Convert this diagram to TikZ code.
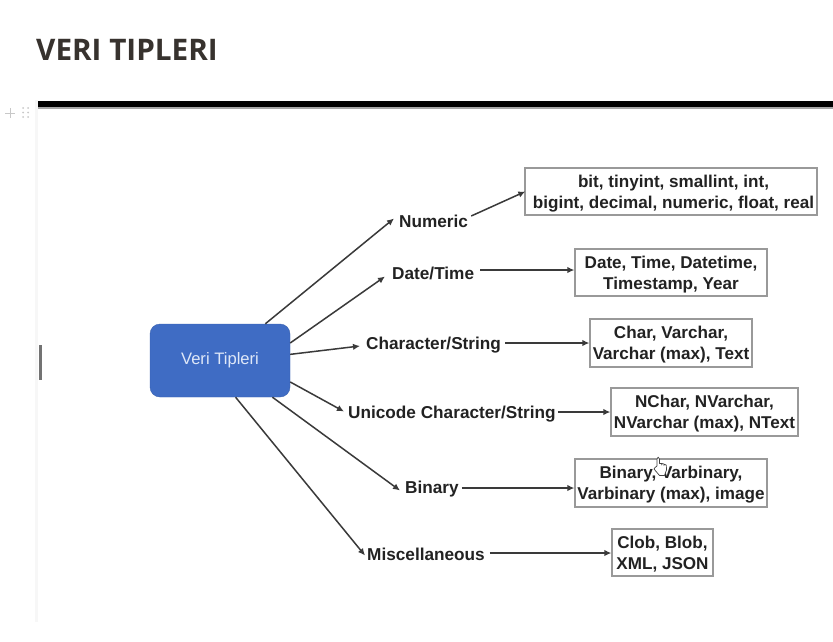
\documentclass[tikz,border=0pt]{standalone}
\usepackage{fontspec}
\setmainfont{Liberation Sans}
\newfontfamily\titlefont{Open Sans}
\usetikzlibrary{arrows.meta,calc}
\tikzset{
  databox/.style={draw=boxgray,line width=1.3pt,fill=white,align=center,font=\fontsize{17.1}{21}\selectfont\bfseries,text=inkdark,inner sep=0pt},
  boxtext/.style={align=center,font=\fontsize{17.1}{21}\selectfont\bfseries,text=inkdark,inner sep=0pt},
  cat/.style={font=\fontsize{17.2}{20}\selectfont\bfseries,text=inkdark,inner sep=0pt,anchor=west},
  arr/.style={draw=linedark,line width=1.5pt,-{Latex[length=7pt,width=6.5pt]}},
}
\definecolor{boxgray}{HTML}{999999}
\definecolor{inkdark}{HTML}{222222}
\definecolor{linedark}{HTML}{3A3A3A}
\definecolor{hubblue}{HTML}{3F6CC4}
\definecolor{hubtext}{HTML}{DFE8F8}
\definecolor{titleink}{HTML}{37322E}
\definecolor{icongray}{HTML}{C8C8C8}
\begin{document}
\begin{tikzpicture}[x=1pt,y=-1pt]
\useasboundingbox (0,0) rectangle (833,642);
\fill[white] (0,0) rectangle (833,642);
% page furniture
\fill[black!3] (35,100) rectangle (37.5,622);
\fill[black] (38,101) rectangle (833,107);
\fill[black!35] (38,107) rectangle (833,108.5);
\fill[black!55] (38.5,345) rectangle (41.5,380);
\node[anchor=west,inner sep=0pt,text=titleink,font=\fontsize{29.7}{36}\selectfont\titlefont\bfseries] (title) at (36,50) {VERI TIPLERI};
\draw[icongray,line width=1pt] (5,113)--(15,113) (10,108)--(10,118);
\foreach \px in {23,28}\foreach \py in {108,112.5,117}\fill[icongray] (\px,\py) circle (1pt);
% hub
\node[draw=hubblue!90!black,fill=hubblue,rounded corners=10pt,minimum width=140pt,minimum height=73pt,inner sep=0pt,text=hubtext,font=\fontsize{16.6}{20}\selectfont] (hub) at (220,360.5) {Veri Tipleri};
% categories
\node[cat] (c1) at (399,221) {Numeric};
\node[cat] (c2) at (392,273) {Date/Time};
\node[cat] (c3) at (366,345) {Character/String};
\node[cat] (c4) at (348,414) {Unicode Character/String};
\node[cat] (c5) at (405,489) {Binary};
\node[cat] (c6) at (367,554) {Miscellaneous};
% boxes
\node[databox,minimum width=292pt,minimum height=47pt] (b1) at (671,191.5) {};
\node[boxtext] (t1) at (b1) [yshift=-1.8pt,xshift=2.5pt] {bit, tinyint, smallint, int,\\bigint, decimal, numeric, float, real};
\node[databox,minimum width=192pt,minimum height=47pt] (b2) at (671,272.5) {};
\node[boxtext] (t2) at (b2) [yshift=-1.8pt] {Date, Time, Datetime,\\Timestamp, Year};
\node[databox,minimum width=162pt,minimum height=48pt] (b3) at (671,343) {};
\node[boxtext] (t3) at (b3) [yshift=-1.8pt] {Char, Varchar,\\Varchar (max), Text};
\node[databox,minimum width=187pt,minimum height=48pt] (b4) at (704.5,412) {};
\node[boxtext] (t4) at (b4) [yshift=-1.8pt] {NChar, NVarchar,\\NVarchar (max), NText};
\node[databox,minimum width=192pt,minimum height=48pt] (b5) at (671,483) {};
\node[boxtext] (t5) at (b5) [yshift=-1.8pt] {Binary, Varbinary,\\Varbinary (max), image};
\node[databox,minimum width=101pt,minimum height=47pt] (b6) at (662.5,552.5) {};
\node[boxtext] (t6) at (b6) [yshift=-1.8pt] {Clob, Blob,\\XML, JSON};
% hub to category
\draw[arr] (hub.39.7) -- ($(c1.west)+(-5,-2.5)$);
\draw[arr] (hub.14.8) -- ($(c2.west)+(-7,3.5)$);
\draw[arr] (hub.5.3) -- ($(c3.west)+(-6,1)$);
\draw[arr] (hub.-17) -- ($(c4.west)+(-4,-2.5)$);
\draw[arr] (hub.-35) -- ($(c5.west)+(-5,1.5)$);
\draw[arr] (hub.-67.7) -- ($(c6.west)+(-2,1.5)$);
% category to box
\draw[arr] ($(c1.east)+(3,-5)$) -- ($(b1.west)+(1,0)$);
\draw[arr] ($(c2.east |- b2.west)+(6,-2.5)$) -- ($(b2.west)+(0,-2.5)$);
\draw[arr] ($(c3.east |- b3.west)+(4,0)$) -- (b3.west);
\draw[arr] ($(c4.east |- b4.west)+(2,0)$) -- (b4.west);
\draw[arr] ($(c5.east |- b5.west)+(3,5)$) -- ($(b5.west)+(0,5)$);
\draw[arr] ($(c6.east |- b6.west)+(5,.5)$) -- ($(b6.west)+(0,.5)$);
% pointer
\draw[fill=white,draw=black!75,line width=.7pt,line join=round]
 (657,466) -- (657,459) .. controls (657,456.5) and (659.4,456.5) .. (659.4,459) -- (659.4,463.5)
 -- (661.8,463.5) -- (661.8,465) -- (661.8,463.5) -- (664,464) -- (664,465.5) -- (664,464.2) -- (666.3,465) -- (666.5,470) -- (664.5,475.5) -- (659.5,475.5) -- (654,469) -- (655,467.5) -- cycle;
\end{tikzpicture}
\end{document}
